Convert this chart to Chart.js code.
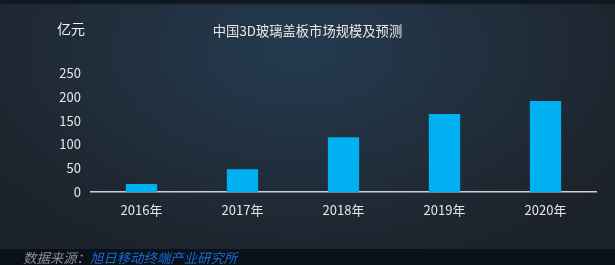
<!DOCTYPE html>
<html><head><meta charset="utf-8">
<script src="https://cdn.jsdelivr.net/npm/chart.js@4"></script>
<style>
html,body{margin:0;padding:0;}
#wrap{position:relative;width:615px;height:265px;overflow:hidden;
background:
 linear-gradient(to bottom, #0f1821 0px, #0f1821 3px, rgba(0,0,0,0) 5px),
 radial-gradient(ellipse 380px 230px at 300px 50px, #243a4f 0%, #21303f 45%, #1c2229 100%);
font-family:"Noto Sans CJK SC","Noto Sans",sans-serif;}
#band{position:absolute;left:0;top:249px;width:615px;height:16px;background:#0a1119;}
#unit{position:absolute;left:57px;top:18px;color:#f2f2f2;font-size:14px;line-height:20px;}
#title{position:absolute;left:0;width:615px;top:22px;text-align:center;color:#e8e8e8;font-size:13.3px;line-height:18px;}
#src{position:absolute;left:23px;top:248px;font-size:13.4px;line-height:19px;font-style:italic;white-space:nowrap;}
#src .a{color:#8c9096;} #src .b{color:#1a6bd8;}
canvas{position:absolute;left:0;top:0;}
</style></head>
<body><div id="wrap">
<div id="band"></div>
<canvas id="c" width="615" height="265"></canvas>
<div id="unit">亿元</div>
<div id="title">中国3D玻璃盖板市场规模及预测</div>
<div id="src"><span class="a">数据来源：</span><span class="b">旭日移动终端产业研究所</span></div>
</div>
<script>
const categories = ["2016年","2017年","2018年","2019年","2020年"];
const marketSize = [17, 48, 115, 164, 191];
const yTicks = [0, 50, 100, 150, 200, 250];

new Chart(document.getElementById('c'), {
  type: 'bar',
  data: { labels: categories, datasets: [{ data: marketSize, backgroundColor: '#00b0f0', barPercentage: 0.31, categoryPercentage: 1 }] },
  options: {
    responsive: false, animation: false,
    layout: { padding: { top: 73, right: 19, left: 0, bottom: 0 } },
    plugins: { legend: { display: false }, tooltip: { enabled: false } },
    scales: {
      x: {
        grid: { display: false, drawTicks: false },
        border: { display: true, color: '#d0d0d0', width: 1.5 },
        ticks: { color: '#e6e6e6', padding: 10, font: { family: '"Noto Sans CJK SC"', size: 13 } },
        afterFit: s => { s.height = 73; }
      },
      y: {
        min: 0, max: 250,
        afterBuildTicks: s => { s.ticks = yTicks.map(v => ({ value: v })); },
        grid: { display: false, drawTicks: false },
        border: { display: false },
        ticks: { color: '#e6e6e6', padding: 10, font: { family: '"Noto Sans CJK SC"', size: 13 } },
        afterFit: s => { s.width = 91; }
      }
    }
  }
});
</script>
</body></html>
